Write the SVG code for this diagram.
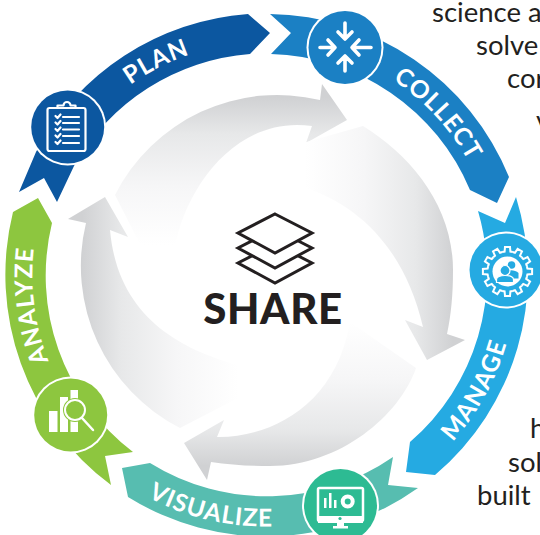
<svg xmlns="http://www.w3.org/2000/svg" xmlns:xlink="http://www.w3.org/1999/xlink" width="540" height="535" viewBox="0 0 540 535">
<style>
.lbl{font-family:Lato,"Liberation Sans",sans-serif;font-weight:700;font-size:24.5px;fill:#fff;letter-spacing:1px;text-anchor:middle}
.body{font-family:Lato,"Liberation Sans",sans-serif;font-size:27.5px;fill:#231f20}
.ring{fill:#fff}
.ln{fill:none;stroke:#fff;stroke-width:2.2;stroke-linecap:round;stroke-linejoin:round}
.ar{fill:none;stroke:#fff;stroke-width:3.6;stroke-linecap:round;stroke-linejoin:round}
.lay{fill:#fff;stroke:#231f20;stroke-width:3;stroke-linejoin:miter}
.s0{stop-color:#d0d1d3}.s1{stop-color:#e7e8e9}.s2{stop-color:#f6f6f7}.s3{stop-color:#fff}
</style>
<defs>
<linearGradient id="g1" gradientUnits="userSpaceOnUse" x1="0" y1="97" x2="0" y2="245"><stop offset="0" class="s0"/><stop offset=".25" class="s1"/><stop offset=".6" class="s2"/><stop offset="1" class="s3"/></linearGradient>
<linearGradient id="g2" gradientUnits="userSpaceOnUse" x1="453" y1="0" x2="305" y2="0"><stop offset="0" class="s0"/><stop offset=".25" class="s1"/><stop offset=".6" class="s2"/><stop offset="1" class="s3"/></linearGradient>
<linearGradient id="g3" gradientUnits="userSpaceOnUse" x1="0" y1="466" x2="0" y2="322"><stop offset="0" class="s0"/><stop offset=".25" class="s1"/><stop offset=".6" class="s2"/><stop offset="1" class="s3"/></linearGradient>
<linearGradient id="g4" gradientUnits="userSpaceOnUse" x1="82" y1="0" x2="238" y2="0"><stop offset="0" class="s0"/><stop offset=".25" class="s1"/><stop offset=".6" class="s2"/><stop offset="1" class="s3"/></linearGradient>
<path id="pPlan" d="M38,222.500A233,233 0 0 1 356,60.500"/>
<path id="pCollect" d="M253.100,42A233,233 0 0 1 496,303.800"/>
<path id="pAnalyze" d="M140.100,471.300A233,233 0 0 1 93.500,117.400"/>
<path id="pManage" d="M314.200,521A251,251 0 0 0 498.900,183.600"/>
<path id="pVisualize" d="M41.100,388.500A251,251 0 0 0 416.600,475.800"/>
<path id="tooth" d="M-5.300,-19.400L-2.900,-19.900L-2.500,-24.600L2.500,-24.600L2.900,-19.900L5.300,-19.400" fill="none" stroke="#fff" stroke-width="2" stroke-linejoin="miter"/>
</defs>
<rect width="540" height="535" fill="#fff"/>
<g id="page-text" class="body">
<text x="432" y="22">science a</text>
<text x="476" y="55">solve</text>
<text x="507" y="88">cor</text>
<text x="536" y="130">v</text>
<text x="530" y="438">h</text>
<text x="508" y="472">sol</text>
<text x="477" y="505">built</text>
</g>
<g id="share-arrows">
<path fill="url(#g1)" d="M115,195A182,182 0 0 1 320,100L322,84L347,120L306,143L312,126C235,115 185,190 175,247L142,248Z"/>
<path fill="url(#g2)" d="M363,126C410,155 453,205 453,270C453,295 451,315 447,334L465,340L427,360L405,320L423,327C405,250 360,205 303,187L303,143Z"/>
<path fill="url(#g3)" d="M416,368C400,415 340,466 270,466C250,466 230,465 211,462L207,480L184,443L224,420L217,437C265,438 335,410 350,322Z"/>
<path fill="url(#g4)" d="M180,428A182,182 0 0 1 86,223L68,219L105,197L128,237L110,230C118,320 185,350 237,365L238,398Z"/>
</g>
<g id="connectors">
<path fill="#0c57a0" d="M36,152A262,262 0 0 1 248,14L270,33L250,54A222,222 0 0 0 74,166L57,202L44,178L19,192Z"/>
<path fill="#1b80c4" d="M270,14L291,33L271,54A222,222 0 0 1 470,190L497,203L509,177A262,262 0 0 0 270,14Z"/>
<path fill="#25aae2" d="M478,211L505,223L516,197A262,262 0 0 1 435,475L406,472L410,442A222,222 0 0 0 478,211Z"/>
<path fill="#57bdb0" d="M393,457L388,485L418,488A262,262 0 0 1 128,497L122,468L150,463A222,222 0 0 0 393,457Z"/>
<path fill="#8dc63f" d="M133,452L105,456L111,485A262,262 0 0 1 13,212L38,198L52,223A222,222 0 0 0 133,452Z"/>
</g>
<g id="node-plan">
<text class="lbl"><textPath xlink:href="#pPlan" href="#pPlan" startOffset="50%">PLAN</textPath></text>
<circle class="ring" cx="67.700" cy="127" r="38.500"/><circle cx="67.700" cy="127" r="36.500" fill="#0c57a0"/>
<rect class="ln" x="47.500" y="108" width="38" height="43" rx="2"/>
<path class="ln" d="M57.500,108V105.500H63.500A3.500,3.500 0 0 1 70.500,105.500H75.500V108"/>
<path class="ln" d="M63,117H79M63,123H79M63,129.500H79M63,136H79M63,143H79"/>
<path class="ln" d="M55.500,116L57.500,118L60.500,114.500M55.500,122.500L57.500,124.500L60.500,121M55.500,129L57.500,131L60.500,127.500M55.500,135.500L57.500,137.500L60.500,134M55.500,142L57.500,144L60.500,140.500"/>
</g>
<g id="node-collect">
<text class="lbl"><textPath xlink:href="#pCollect" href="#pCollect" startOffset="50%">COLLECT</textPath></text>
<circle class="ring" cx="345" cy="47.500" r="38.500"/><circle cx="345" cy="47.500" r="36.500" fill="#1b80c4"/>
<path class="ar" d="M345,23V38M338,32L345,39L352,32M345,71V56M338,63L345,56L352,63M320,47.500H334M328,40L335,47.500L328,55M371,47.500H353M359,40L352,47.500L359,55"/>
</g>
<g id="node-manage">
<text class="lbl"><textPath xlink:href="#pManage" href="#pManage" startOffset="50%">MANAGE</textPath></text>
<circle class="ring" cx="506" cy="270" r="38.500"/><circle cx="506" cy="270" r="36.500" fill="#25aae2"/>
<g transform="translate(507.500 271.500)">
<use href="#tooth"/><use href="#tooth" transform="rotate(30)"/><use href="#tooth" transform="rotate(60)"/><use href="#tooth" transform="rotate(90)"/><use href="#tooth" transform="rotate(120)"/><use href="#tooth" transform="rotate(150)"/><use href="#tooth" transform="rotate(180)"/><use href="#tooth" transform="rotate(210)"/><use href="#tooth" transform="rotate(240)"/><use href="#tooth" transform="rotate(270)"/><use href="#tooth" transform="rotate(300)"/><use href="#tooth" transform="rotate(330)"/>
<circle r="15" fill="#fff"/>
<circle cx="4" cy="-6.500" r="3.800" fill="#25aae2"/>
<path fill="#25aae2" d="M-2,0C1,-2 8,-2 11,1.500V7H3Z"/>
<circle cx="-2.500" cy="-1" r="5" fill="#25aae2" stroke="#fff" stroke-width="1.200"/>
<path fill="#25aae2" stroke="#fff" stroke-width="1.200" d="M-11,11V8C-11,5 -7,4 -2.500,4C2,4 6,5 6,8V11Z"/>
</g>
</g>
<g id="node-visualize">
<text class="lbl"><textPath xlink:href="#pVisualize" href="#pVisualize" startOffset="50%">VISUALIZE</textPath></text>
<circle class="ring" cx="340.500" cy="505.500" r="38.500"/><circle cx="340.500" cy="505.500" r="36.500" fill="#2dbb93"/>
<rect x="318" y="488" width="45" height="33" rx="1.500" fill="none" stroke="#fff" stroke-width="2.500"/>
<rect x="318" y="516" width="45" height="7" fill="#fff"/>
<circle cx="340" cy="518.500" r="1.600" fill="#2dbb93"/>
<path fill="#fff" d="M337,523H344V526H348V528.500H333V526H337Z"/>
<path fill="#fff" d="M324,498H326.500V508H324ZM329,493H331.500V508H329ZM334,500H336.500V508H334Z"/>
<circle cx="347.700" cy="501.500" r="5" fill="none" stroke="#fff" stroke-width="4"/>
</g>
<g id="node-analyze">
<text class="lbl"><textPath xlink:href="#pAnalyze" href="#pAnalyze" startOffset="50%">ANALYZE</textPath></text>
<circle class="ring" cx="70.700" cy="415" r="38.500"/><circle cx="70.700" cy="415" r="36.500" fill="#8dc63f"/>
<path fill="#fff" d="M49,411H57.500V432H49ZM60,397H68V432H60ZM70.500,390H78V432H70.500Z"/>
<circle cx="75" cy="410" r="10" fill="#8dc63f" stroke="#8dc63f" stroke-width="4"/>
<circle cx="75" cy="410" r="10" fill="#8dc63f" stroke="#fff" stroke-width="2"/>
<path d="M82,418L93,430" stroke="#fff" stroke-width="2.500" stroke-linecap="round" fill="none"/>
</g>
<g id="node-share">
<polygon class="lay" points="275,244 312,263 275,283 238,263"/>
<polygon class="lay" points="275,229 312,248 275,268 238,248"/>
<polygon class="lay" points="275,214 312,233 275,253 238,233"/>
<text x="273" y="324" text-anchor="middle" font-family="Lato,'Liberation Sans',sans-serif" font-weight="900" font-size="42" letter-spacing=".6" fill="#231f20">SHARE</text>
</g>
</svg>
